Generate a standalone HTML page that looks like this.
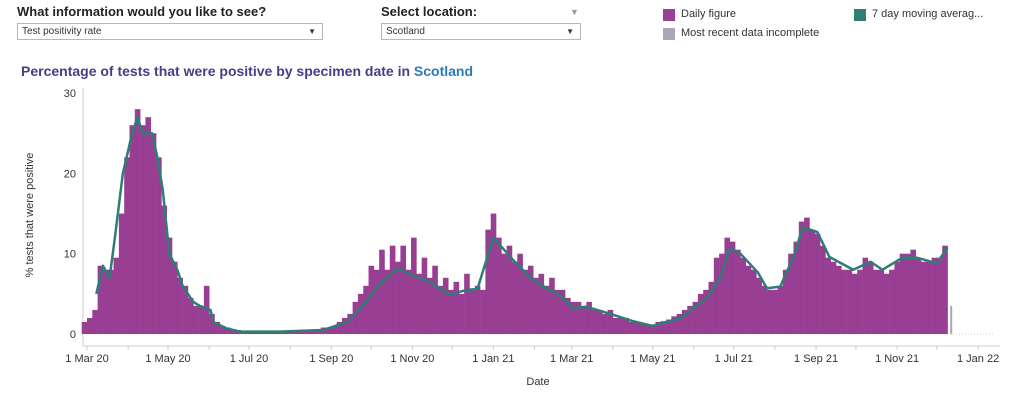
<!DOCTYPE html>
<html><head><meta charset="utf-8"><style>
body{margin:0;width:1024px;height:401px;background:#fff;font-family:"Liberation Sans",Arial,sans-serif;overflow:hidden;position:relative}
.abs{position:absolute}
.lbl{font-weight:bold;font-size:13px;color:#222}
.dd{border:1px solid #b8b8b8;height:16px;font-size:10px;color:#333;line-height:16px;padding-left:4px;box-sizing:border-box;height:17px}
.dd span{position:absolute;right:6px;top:0;font-size:8px}
.leg{font-size:11px;color:#333}
.sw{width:12px;height:12px}
</style></head><body>
<div class="abs lbl" style="left:17px;top:4px">What information would you like to see?</div>
<div class="abs dd" style="left:17px;top:23px;width:306px">Test positivity rate<span>▼</span></div>
<div class="abs lbl" style="left:381px;top:4px">Select location:</div>
<div class="abs" style="left:570px;top:7px;font-size:9px;color:#999">▼</div>
<div class="abs dd" style="left:381px;top:23px;width:200px">Scotland<span>▼</span></div>
<div class="abs sw" style="left:663px;top:9px;background:#9b3f96"></div>
<div class="abs leg" style="left:681px;top:8px">Daily figure</div>
<div class="abs sw" style="left:663px;top:28px;background:#aca7b8"></div>
<div class="abs leg" style="left:681px;top:27px">Most recent data incomplete</div>
<div class="abs sw" style="left:854px;top:9px;background:#2e8077"></div>
<div class="abs leg" style="left:872px;top:8px">7 day moving averag...</div>
<div class="abs" style="left:21px;top:63px;font-size:14px;font-weight:bold;color:#4b3b86">Percentage of tests that were positive by specimen date in <span style="color:#2b7bb9">Scotland</span></div>
<svg class="abs" style="left:0;top:0" width="1024" height="401" id="chart"></svg>
<script>
const barStartDay = -4, barStep = 4;
const barValues = [1.5,2,3,8.5,8,8,9.5,15,22,26,
28,26,27,25,22,16,12,9,7,6,
4.5,3.5,3.5,6,2.5,1.5,1,0.8,0.6,0.5,
0.3,0.3,0.3,0.3,0.3,0.3,0.3,0.3,0.4,0.4,
0.4,0.5,0.5,0.5,0.6,0.8,0.8,1,1.5,2,
2.5,4,5,6,8.5,8,10.5,8,11,9,
11,8,12,7.5,9.5,7,8.5,6,7,5.5,
6.5,5,7.5,5.5,6,5.5,13,15,12,10,
11,9,10,8,8.5,7,7.5,6,7,5.5,
5.5,4.5,4,4,3.5,4,3,3,2.5,3,
2,2,2,1.5,1.5,1.3,1.2,1.2,1.5,1.6,
1.8,2.2,2.5,3,3.5,4,5,5.5,6.5,9.5,
10,12,11.5,10.5,9.5,8.5,8,7,6,5.5,
5.5,6,8,10,11.5,14,14.5,13,12.5,11,
9.5,9,8.5,8,8,7.5,8,9.5,9,8,
8,7.5,8,9,10,10,10.5,9.5,9,9,
9.5,9.5,11];
const incompleteDay = [650];
const incompleteValue = [3.5];
const maDays = [7,12,17,21,27,34,38,42,49,53,57,62,68,72,80,85,93,95,105,115,145,178,196,208,221,234,245,258,273,286,294,306,321,334,346,358,366,376,396,411,426,447,467,477,484,492,505,512,522,532,539,550,559,577,590,599,614,625,640,648];
const maValues = [5,8.5,7,12,20,25,27,25,25,22,18,10,8,6,4,3.5,3,1.5,0.7,0.3,0.3,0.5,1.5,3.6,6.3,8.2,7.3,6.5,4.9,5.5,5.6,12,9.2,7,5.7,4.6,3.2,3.4,2.4,1.6,1,2,4.5,7.1,10.7,10,7.7,5.7,5.9,9.6,13.3,12.7,9.6,8,9,8,9.5,9.5,8.8,10.8];
const yTicks = [0,10,20,30];
const xTickDays = [0,61,122,184,245,306,365,426,487,549,610,671];
const xTickLabels = ["1 Mar 20","1 May 20","1 Jul 20","1 Sep 20","1 Nov 20","1 Jan 21","1 Mar 21","1 May 21","1 Jul 21","1 Sep 21","1 Nov 21","1 Jan 22"];
const ns="http://www.w3.org/2000/svg";
const svg=document.getElementById('chart');
const X=d=>87+d*1.328;
const Y=v=>334-v*8.03;
function mk(t,a){const e=document.createElementNS(ns,t);for(const k in a)e.setAttribute(k,a[k]);svg.appendChild(e);return e;}
// axes
let e=mk('line',{x1:83,y1:88,x2:83,y2:346,stroke:'#ccc'});


e=mk('line',{x1:83,y1:346,x2:1000,y2:346,stroke:'#ccc'});


e=mk('line',{x1:83,y1:Y(0),x2:995,y2:Y(0),stroke:'#ccc','stroke-dasharray':'1,2'});


yTicks.forEach(v=>{
  const t=mk('text',{x:76,y:Y(v)+4,'text-anchor':'end','font-size':11,fill:'#333'});
  t.textContent=v;
  
  
});
for(let m=0;m<23;m++){
  const dt=new Date(2020,2+m,1);const d=Math.round((dt-new Date(2020,2,1))/864e5);
  const l=mk('line',{x1:X(d),y1:346,x2:X(d),y2:350,stroke:'#ccc'});
  
  
}
xTickDays.forEach((d,i)=>{
  const t=mk('text',{x:X(d),y:362,'text-anchor':'middle','font-size':11,fill:'#333'});
  t.textContent=xTickLabels[i];
  
  
});
let t=mk('text',{x:538,y:385,'text-anchor':'middle','font-size':11,fill:'#333'});
t.textContent='Date';


t=mk('text',{x:0,y:0,'text-anchor':'middle','font-size':11,fill:'#333',transform:'translate(33,215) rotate(-90)'});
t.textContent='% tests that were positive';


// bars
barValues.forEach((v,i)=>{
  const d=barStartDay+i*barStep;
  const x0=X(d),x1=X(d+barStep);
  const r=mk('rect',{x:x0,y:Y(v),width:x1-x0+0.3,height:Y(0)-Y(v),fill:'#983f93'});
  
  
});
incompleteDay.forEach((d,i)=>{
  const r=mk('rect',{x:X(d),y:Y(incompleteValue[i]),width:2,height:Y(0)-Y(incompleteValue[i]),fill:'#aca7b8'});
  
  
});
const p=mk('polyline',{points:maDays.map((d,i)=>X(d)+','+Y(maValues[i])).join(' '),fill:'none',stroke:'#2e7d76','stroke-width':2.5,'stroke-linejoin':'round'});


</script>
</body></html>
